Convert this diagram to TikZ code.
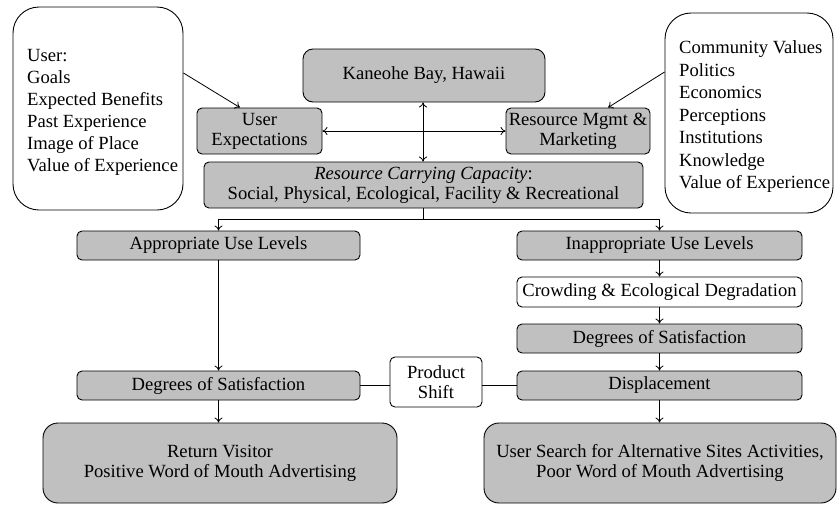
\documentclass[tikz,border=0pt]{standalone}
\usepackage{fontspec}
\setmainfont{Liberation Serif}
\usetikzlibrary{arrows.meta}
\definecolor{boxgray}{RGB}{192,192,192}
\tikzset{
  base/.style={draw=black, line width=0.9pt, inner sep=0pt, align=center,
    font=\fontsize{18.6}{22}\selectfont},
  gbox/.style={base, fill=boxgray, rounded corners=5pt},
  wbox/.style={base, fill=white, rounded corners=5pt},
  bigw/.style={base, fill=white, rounded corners=26pt},
  bigg/.style={base, fill=boxgray, rounded corners=15pt},
  listtext/.style={inner sep=0pt, align=left, anchor=west},
  conn/.style={line width=0.8pt, -{To[length=5pt,width=8pt]}},
  dconn/.style={line width=0.8pt, {To[length=5pt,width=8pt]}-{To[length=5pt,width=8pt]}},
  plain/.style={line width=0.8pt}
}
\begin{document}
\begin{tikzpicture}[x=1pt,y=-1pt]
\useasboundingbox (0,0) rectangle (837,504);
% big side boxes
\node[bigw, minimum width=170pt, minimum height=203pt] (userbox) at (98,108.5) {};
\node[listtext, font=\fontsize{18.6}{22}\selectfont] (userlist) at (27,112) {User:\\Goals\\Expected Benefits\\Past Experience\\Image of Place\\Value of Experience};
\node[bigw, minimum width=168pt, minimum height=200pt] (commbox) at (749,113) {};
\node[listtext, font=\fontsize{18.6}{22.5}\selectfont] (commlist) at (679,117) {Community Values\\Politics\\Economics\\Perceptions\\Institutions\\Knowledge\\Value of Experience};
% top
\node[gbox, rounded corners=10pt, minimum width=242pt, minimum height=53pt] (kaneohe) at (424,75.5) {Kaneohe Bay, Hawaii};
\node[gbox, minimum width=125pt, minimum height=46pt] (userexp) at (259.5,131) {User\\[-2pt]Expectations};
\node[gbox, minimum width=144pt, minimum height=46pt] (resmgmt) at (578,131) {Resource Mgmt \&\\[-2pt]Marketing};
\node[gbox, minimum width=439pt, minimum height=46pt] (rcc) at (423.5,185) {\textit{Resource Carrying Capacity}:\\[-2pt]Social, Physical, Ecological, Facility \& Recreational};
% left column
\node[gbox, minimum width=283pt, minimum height=29pt] (approp) at (218.5,245.5) {Appropriate Use Levels};
\node[gbox, minimum width=283pt, minimum height=29pt] (dosl) at (218.5,385.5) {Degrees of Satisfaction};
\node[bigg, minimum width=354pt, minimum height=80pt] (return) at (220,463) {Return Visitor\\[-2pt]Positive Word of Mouth Advertising};
% right column
\node[gbox, minimum width=285pt, minimum height=29pt] (inapprop) at (659.5,245.5) {Inappropriate Use Levels};
\node[wbox, minimum width=285pt, minimum height=30pt] (crowd) at (659.5,292) {Crowding \& Ecological Degradation};
\node[gbox, minimum width=285pt, minimum height=29pt] (dosr) at (659.5,338.5) {Degrees of Satisfaction};
\node[gbox, minimum width=285pt, minimum height=29pt] (displ) at (659.5,385.5) {Displacement};
\node[bigg, minimum width=352pt, minimum height=80pt] (search) at (660,463) {User Search for Alternative Sites Activities,\\[-2pt]Poor Word of Mouth Advertising};
% middle
\node[wbox, minimum width=92pt, minimum height=50pt] (shift) at (436,382) {Product\\[-2pt]Shift};
% connectors
\coordinate (ue) at (240,108);
\coordinate (rm) at (608,108);
\draw[conn] (userbox.east |- 0,73) -- (userexp.north -| ue);
\draw[conn] (commbox.west |- 0,72) -- (resmgmt.north -| rm);
\draw[dconn] (kaneohe.south -| 423,0) -- (rcc.north -| 423,0);
\draw[dconn] (userexp.east) -- (resmgmt.west);
\coordinate (split) at (423,219);
\draw[plain] (rcc.south -| split) -- (split);
\draw[conn] (split) -| (approp.north);
\draw[conn] (split) -| (inapprop.north);
\draw[conn] (approp.south) -- (dosl.north);
\draw[conn] (dosl.south) -- (dosl.south |- return.north);
\draw[conn] (inapprop.south) -- (crowd.north);
\draw[conn] (crowd.south) -- (dosr.north);
\draw[conn] (dosr.south) -- (displ.north);
\draw[conn] (displ.south) -- (displ.south |- search.north);
\draw[plain] (dosl.east) -- (dosl.east -| shift.west);
\draw[plain] (shift.east |- displ.west) -- (displ.west);
\end{tikzpicture}
\end{document}
